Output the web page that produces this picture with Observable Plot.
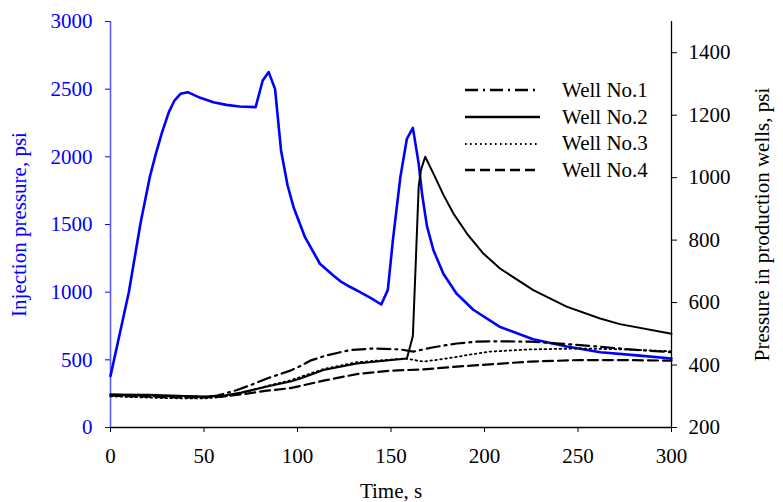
<!DOCTYPE html>
<html><head><meta charset="utf-8">
<script src="https://cdn.jsdelivr.net/npm/d3@7"></script>
<script src="https://cdn.jsdelivr.net/npm/@observablehq/plot@0.6"></script>
<style>
body{margin:0;background:#fff;}
#wrap{position:relative;width:783px;height:502px;overflow:hidden;background:#fff;}
#wrap > div.layer{position:absolute;left:0;top:0;}
#legend{position:absolute;left:465px;top:77px;font-family:"Liberation Serif","Times New Roman",serif;font-size:21px;color:#000;}
.row{display:flex;align-items:center;height:26.7px;}
.row svg{width:75px;height:10px;margin-right:22px;flex:none;}
</style></head>
<body><div id="wrap"><div class="layer" id="chartA"></div><div class="layer" id="chartB"></div><div id="legend"></div></div>
<script>
// ---- data ----
const xTicks = [0, 50, 100, 150, 200, 250, 300];
const leftTicks = [0, 500, 1000, 1500, 2000, 2500, 3000];
const rightTicks = [200, 400, 600, 800, 1000, 1200, 1400];

// Injection pressure (left axis, psi)
const injT = [0, 9.8, 16, 21, 24, 27.6, 31.2, 34.2, 37.4, 41.3, 48, 55, 62, 69, 77.6, 81.4, 84.6, 88, 91.2, 94.7, 97.9, 104, 112, 119, 123, 128, 133.5, 140, 144.8, 148.3, 151, 155, 158.5, 161.7, 164.8, 166.6, 169.2, 172.7, 178, 185, 194, 208, 226, 244, 262, 280, 300];
const injP = [380, 1000, 1505, 1850, 2010, 2182, 2330, 2416, 2466, 2478, 2436, 2404, 2384, 2372, 2367, 2564, 2626, 2500, 2047, 1788, 1628, 1406, 1210, 1125, 1080, 1040, 1000, 950, 909, 1017, 1382, 1850, 2133, 2214, 1950, 1727, 1490, 1310, 1136, 990, 870, 745, 652, 598, 556, 535, 510];

// Production wells (right axis, psi)
const well1T = [0, 30, 50, 57, 67.7, 75, 83.7, 96.2, 101.5, 106.8, 115, 122.9, 128.2, 140.6, 154.9, 162, 172.7, 185.2, 195.9, 203, 224.4, 251.1, 277.8, 300];
const well1P = [305, 300, 298, 302, 320, 336, 357, 382, 397, 414, 430, 441, 448, 453, 450, 443, 457, 469, 475, 476, 475, 464, 450, 441];

const well2T = [0, 20, 40, 50, 60, 70, 83.7, 96.2, 101.5, 113.9, 131.7, 145, 158.5, 161.7, 163.5, 164.8, 166, 168.3, 172.7, 178.1, 183.4, 190.6, 199.4, 208.3, 226.1, 243.9, 261.8, 272.4, 300];
const well2P = [306, 305, 301, 299, 302, 312, 331, 347, 357, 384, 405, 413, 421, 493, 768, 971, 1024, 1067, 1013, 944, 885, 821, 757, 709, 640, 587, 549, 531, 500];

const well3T = [0, 30, 50, 60, 70, 83.7, 96.2, 113.9, 131.7, 157.5, 167.4, 179.9, 195.9, 203, 224, 251.1, 275, 300];
const well3P = [300, 294, 293, 298, 310, 333, 351, 387, 409, 421, 411, 421, 437, 443, 450, 453, 450, 444];

const well4T = [0, 30, 50, 60, 70, 83.7, 96.2, 101.5, 113.9, 131.7, 149.6, 167.4, 185.2, 197.6, 224.4, 251.1, 275, 300];
const well4P = [302, 297, 296, 299, 306, 318, 326, 333, 350, 371, 382, 386, 395, 400, 411, 416, 416, 414];

const wellNames = ["Well No.1", "Well No.2", "Well No.3", "Well No.4"];
const wellDash = ["13,5,2,5", "none", "1.6,3.4", "10,5"];
const wellWidth = [2.2, 2, 1.8, 2.2];

// ---- build tables ----
const zip = (T, P) => T.map((t, i) => ({t, p: P[i]}));
const injection = zip(injT, injP);
const wells = [zip(well1T, well1P), zip(well2T, well2P), zip(well3T, well3P), zip(well4T, well4P)];

const font = '"Liberation Serif", "Times New Roman", serif';
const common = {
  width: 783, height: 502,
  marginLeft: 110, marginRight: 112, marginTop: 21, marginBottom: 75,
  style: {fontFamily: font, fontSize: "21px", background: "transparent", overflow: "visible"},
  x: {domain: [0, 300]}
};

const chartA = Plot.plot({
  ...common,
  y: {domain: [0, 3000]},
  marks: [
    Plot.axisX({ticks: xTicks, tickSize: 5, tickPadding: 16, tickFormat: d3.format("d"),
      label: "Time, s", labelAnchor: "center", labelArrow: "none", labelOffset: 70, color: "black"}),
    Plot.axisY({ticks: leftTicks, tickSize: 5, tickPadding: 13, tickFormat: d3.format("d"),
      label: "Injection pressure, psi", labelAnchor: "center", labelArrow: "none", labelOffset: 99,
      color: "#0000ff"}),
    Plot.ruleY([0], {stroke: "black", strokeWidth: 1.3}),
    Plot.ruleX([0], {stroke: "#5a5aff", strokeWidth: 1.6}),
    Plot.line(injection, {x: "t", y: "p", stroke: "#0000ff", strokeWidth: 2.6})
  ]
});
document.getElementById("chartA").append(chartA);

const chartB = Plot.plot({
  ...common,
  x: {domain: [0, 300], axis: null},
  y: {domain: [200, 1500]},
  marks: [
    Plot.axisY({anchor: "right", ticks: rightTicks, tickSize: 5, tickPadding: 12, tickFormat: d3.format("d"),
      label: "Pressure in production wells, psi", labelAnchor: "center", labelArrow: "none", labelOffset: 97,
      color: "black"}),
    Plot.ruleX([300], {stroke: "black", strokeWidth: 1.3}),
    ...wells.map((w, i) => Plot.line(w, {x: "t", y: "p", stroke: "black",
      strokeWidth: wellWidth[i], strokeDasharray: wellDash[i]}))
  ]
});
document.getElementById("chartB").append(chartB);

// ---- legend ----
const legend = document.getElementById("legend");
wellNames.forEach((name, i) => {
  const row = document.createElement("div");
  row.className = "row";
  row.innerHTML = `<svg viewBox="0 0 75 10"><line x1="0" y1="5" x2="75" y2="5" stroke="black" stroke-width="${wellWidth[i] + 0.4}" ${wellDash[i] !== "none" ? `stroke-dasharray="${wellDash[i]}"` : ""}/></svg><span>${name}</span>`;
  legend.append(row);
});
</script>
</body></html>
